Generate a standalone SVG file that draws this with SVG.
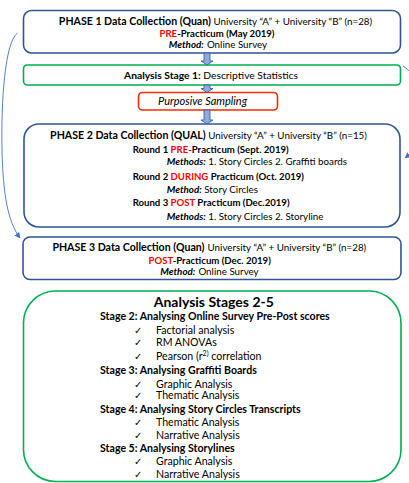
<svg xmlns="http://www.w3.org/2000/svg" width="409" height="483" viewBox="0 0 409 483">
<defs>
<style>
text{font-family:Lato,"Liberation Sans",sans-serif;fill:#000;font-size:10.6px}
.b{font-weight:bold}
.i{font-style:italic}
.s{font-size:9.8px}
.m{font-size:9.6px}
.red{fill:#FF0000}
.blue{fill:#fff;stroke:#2F5597;stroke-width:1.6}
.green{fill:#fff;stroke:#00B050;stroke-width:1.6}
.redbox{fill:#fff;stroke:#FF2A00;stroke-width:1.6}
.barrow{fill:#8FAADC;stroke:#2F5597;stroke-width:0.8}
.curve{fill:none;stroke:#4472C4;stroke-width:0.9}
.chk{font-family:"DejaVu Sans",sans-serif;font-size:10px}
</style>
<marker id="ah" viewBox="0 0 10 10" refX="9" refY="5" markerWidth="6" markerHeight="6" orient="auto" markerUnits="userSpaceOnUse">
<path d="M0,0 L10,5 L0,10 z" fill="#4472C4"/>
</marker>
</defs>
<rect width="409" height="483" fill="#fff"/>

<g id="phase1">
<rect class="blue" x="23.5" y="10.5" width="377" height="42.5" rx="8"/>
<text x="215.5" y="24.5" text-anchor="middle"><tspan class="b">PHASE 1 Data Collection (Quan)</tspan><tspan class="s"> University “A” + University “B” (n=28)</tspan></text>
<text x="217" y="37" text-anchor="middle" class="b m"><tspan class="red">PRE</tspan>-Practicum (May 2019)</text>
<text x="218" y="47.8" text-anchor="middle" class="s"><tspan class="b i">Method:</tspan><tspan dx="3">Online Survey</tspan></text>
</g>

<g id="stage1">
<rect class="green" x="23.5" y="65" width="377" height="20" rx="4"/>
<text x="211" y="78.5" text-anchor="middle" style="font-size:10.3px"><tspan class="b">Analysis Stage 1:</tspan> Descriptive Statistics</text>
</g>

<g id="sampling">
<rect class="redbox" x="138.5" y="92.5" width="139" height="17.5" rx="4"/>
<text x="202.5" y="104.8" text-anchor="middle" class="i" style="font-size:11px">Purposive Sampling</text>
</g>

<g id="phase2">
<rect class="blue" x="24" y="124" width="376" height="103" rx="15"/>
<text x="208.5" y="138.5" text-anchor="middle"><tspan class="b">PHASE 2 Data Collection (QUAL)</tspan><tspan class="s"> University “A” + University “B” (n=15)</tspan></text>
<text x="132.7" y="152.5" class="b m">Round 1 <tspan class="red">PRE-</tspan>Practicum (Sept. 2019)</text>
<text x="166.7" y="165" class="s"><tspan class="b i">Methods:</tspan> 1. Story Circles  2. Graffiti boards</text>
<text x="132.7" y="180" class="b m">Round 2 <tspan class="red">DURING</tspan> Practicum (Oct. 2019)</text>
<text x="166.7" y="192.5" class="s"><tspan class="b i">Method:</tspan> Story Circles</text>
<text x="132.7" y="205.8" class="b m">Round 3 <tspan class="red">POST</tspan> Practicum (Dec.2019)</text>
<text x="166.7" y="220" class="s"><tspan class="b i">Methods:</tspan> 1. Story Circles 2. Storyline</text>
</g>

<g id="phase3">
<rect class="blue" x="23" y="237" width="378" height="42.5" rx="7"/>
<text x="209.3" y="251" text-anchor="middle"><tspan class="b">PHASE 3 Data Collection (Quan)</tspan><tspan class="s" dx="3">University “A” + University “B” (n=28)</tspan></text>
<text x="209.7" y="264.3" text-anchor="middle" class="b m"><tspan class="red">POST</tspan>-Practicum (Dec. 2019)</text>
<text x="209.5" y="275.3" text-anchor="middle" class="s"><tspan class="b i">Method:</tspan><tspan dx="3">Online Survey</tspan></text>
</g>

<g id="stages2to5">
<rect class="green" x="23.5" y="291" width="377.5" height="190.5" rx="32"/>
<text x="213.8" y="307" text-anchor="middle" class="b" style="font-size:14px">Analysis Stages 2-5</text>
<text x="100" y="320" class="b">Stage 2: Analysing Online Survey Pre-Post scores</text>
<text x="134" y="333.5" class="chk">✓</text><text x="156" y="333.5">Factorial analysis</text>
<text x="134" y="346" class="chk">✓</text><text x="156" y="346">RM ANOVAs</text>
<text x="134" y="359.5" class="chk">✓</text><text x="156" y="359.5">Pearson (r<tspan dy="-4" style="font-size:7px">2)</tspan><tspan dy="4"> correlation</tspan></text>
<text x="100" y="373.5" class="b">Stage 3: Analysing Graffiti Boards</text>
<text x="134" y="387.5" class="chk">✓</text><text x="156" y="387.5">Graphic Analysis</text>
<text x="134" y="398.5" class="chk">✓</text><text x="156" y="398.5">Thematic Analysis</text>
<text x="100" y="412.5" class="b">Stage 4: Analysing Story Circles Transcripts</text>
<text x="134" y="426" class="chk">✓</text><text x="156" y="426">Thematic Analysis</text>
<text x="134" y="438.5" class="chk">✓</text><text x="156" y="438.5">Narrative Analysis</text>
<text x="100" y="452" class="b">Stage 5: Analysing Storylines</text>
<text x="134" y="464.5" class="chk">✓</text><text x="156" y="464.5">Graphic Analysis</text>
<text x="134" y="477.5" class="chk">✓</text><text x="156" y="477.5">Narrative Analysis</text>
</g>

<g id="connectors">
<path class="barrow" d="M204,53 H210 V61 H213 L207,65 L201,61 H204 Z"/>
<path class="barrow" d="M204,85 H210 V88.5 H213 L207,92.5 L201,88.5 H204 Z"/>
<path class="barrow" d="M204,110 H210 V120 H213 L207,124 L201,120 H204 Z"/>
<path class="curve" d="M17.5,33 C5,42 1,100 2,150 C3,195 8,222 20,238" marker-end="url(#ah)"/>
<path class="curve" d="M403,66 C428,80 428,140 405,158" marker-end="url(#ah)"/>
</g>
</svg>
